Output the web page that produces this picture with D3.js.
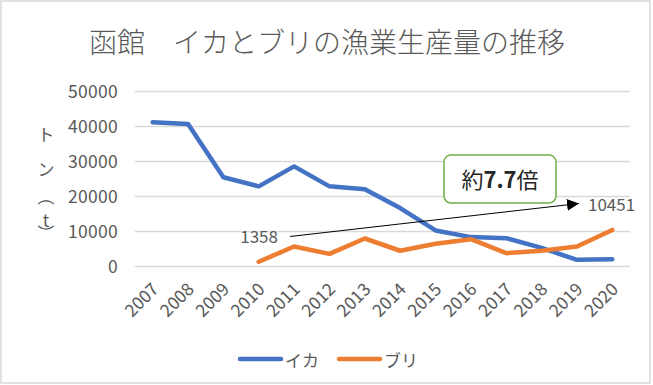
<!DOCTYPE html>
<html>
<head>
<meta charset="utf-8">
<script src="https://cdn.jsdelivr.net/npm/d3@7"></script>
<style>
  body { margin: 0; background: #fff; }
  svg text { font-family: "Noto Sans CJK JP", "Noto Sans", sans-serif; fill: #595959; }
</style>
</head>
<body>
<div id="chart"></div>
<script>
// data
var years = ["2007","2008","2009","2010","2011","2012","2013","2014","2015","2016","2017","2018","2019","2020"];
var ika = [41200, 40700, 25500, 22900, 28600, 22900, 22100, 16700, 10300, 8400, 8100, 5300, 1900, 2100];
var buri = [null, null, null, 1358, 5700, 3600, 8000, 4500, 6500, 7800, 3800, 4500, 5700, 10451];
var yTicks = [0, 10000, 20000, 30000, 40000, 50000];
var seriesNames = ["イカ", "ブリ"];
var seriesColors = ["#4472C4", "#ED7D31"];

var W = 653, H = 385;
var plot = {left: 135, right: 630, top: 91.5, bottom: 266.5};

var svg = d3.select("#chart").append("svg")
    .attr("width", W).attr("height", H);

// outer frame
svg.append("rect")
    .attr("x", 1).attr("y", 1).attr("width", W - 4).attr("height", H - 3)
    .attr("fill", "#fff").attr("stroke", "#d9d9d9").attr("stroke-width", 1.5);

// title
svg.append("text")
    .attr("x", 327).attr("y", 53)
    .attr("text-anchor", "middle")
    .style("font-size", "28px")
    .style("font-weight", 300)
    .text("函館　イカとブリの漁業生産量の推移");

var x = d3.scaleBand().domain(years).range([plot.left, plot.right]);
var y = d3.scaleLinear().domain([0, 50000]).range([plot.bottom, plot.top]);

// grid
svg.append("g").selectAll("line")
    .data(yTicks).enter().append("line")
    .attr("x1", plot.left).attr("x2", plot.right)
    .attr("y1", function(d) { return y(d); })
    .attr("y2", function(d) { return y(d); })
    .attr("stroke", "#d9d9d9").attr("stroke-width", 1.5);

// y axis labels
var yAxis = d3.axisLeft(y).tickValues(yTicks).tickSize(0).tickPadding(17)
    .tickFormat(d3.format("d"));
var gy = svg.append("g").attr("transform", "translate(" + plot.left + ",0)").call(yAxis);
gy.select(".domain").remove();
gy.selectAll("text").style("font-size", "17.5px").style("letter-spacing", "0.3px").attr("fill", "#595959");

// x axis labels, rotated
var xAxis = d3.axisBottom(x).tickSize(0).tickPadding(0);
var gx = svg.append("g").attr("transform", "translate(0," + plot.bottom + ")").call(xAxis);
gx.select(".domain").remove();
gx.selectAll("text")
    .style("font-size", "17.5px").attr("fill", "#595959")
    .attr("text-anchor", "end")
    .attr("dy", null).attr("y", 0)
    .attr("transform", "translate(7,24) rotate(-45)");

// y axis title (vertical)
var yTitle = [
  {ch: "ト", y: 133, rot: 0},
  {ch: "ン", y: 168, rot: 0},
  {ch: "（", y: 197, rot: 90},
  {ch: "t", y: 219, rot: 0},
  {ch: "）", y: 233, rot: 90}
];
svg.append("g").selectAll("text").data(yTitle).enter().append("text")
    .attr("text-anchor", "middle")
    .attr("dominant-baseline", "central")
    .attr("transform", function(d) { return "translate(46," + d.y + ") rotate(" + d.rot + ")"; })
    .style("font-size", "17px")
    .text(function(d) { return d.ch; });

// lines
var line = d3.line()
    .defined(function(d) { return d != null; })
    .x(function(d, i) { return x(years[i]) + x.bandwidth() / 2; })
    .y(function(d) { return y(d); });

[ika, buri].forEach(function(s, i) {
  svg.append("path")
      .datum(s)
      .attr("d", line)
      .attr("fill", "none")
      .attr("stroke", seriesColors[i])
      .attr("stroke-width", 4.5)
      .attr("stroke-linejoin", "round")
      .attr("stroke-linecap", "round");
});

// annotation arrow between first and last ブリ values
svg.append("defs").append("marker")
    .attr("id", "arrow")
    .attr("viewBox", "0 0 10 10")
    .attr("refX", 10).attr("refY", 5)
    .attr("markerWidth", 12).attr("markerHeight", 12)
    .attr("markerUnits", "userSpaceOnUse")
    .attr("orient", "auto")
    .append("path").attr("d", "M0,0L10,5L0,10Z").attr("fill", "#000");

svg.append("line")
    .attr("x1", 290).attr("y1", 236.5)
    .attr("x2", 579).attr("y2", 203.5)
    .attr("stroke", "#000").attr("stroke-width", 1)
    .attr("marker-end", "url(#arrow)");

svg.append("text")
    .attr("x", 278).attr("y", 243)
    .attr("text-anchor", "end")
    .style("font-size", "17px").attr("fill", "#404040")
    .text(d3.format("d")(buri[3]));

svg.append("text")
    .attr("x", 588).attr("y", 211)
    .style("font-size", "17px").attr("fill", "#404040")
    .text(d3.format("d")(buri[13]));

// ratio callout
svg.append("rect")
    .attr("x", 444).attr("y", 155).attr("width", 112).attr("height", 48)
    .attr("rx", 7).attr("ry", 7)
    .attr("fill", "#fff").attr("stroke", "#70AD47").attr("stroke-width", 1.5);

var callout = svg.append("text")
    .attr("x", 500).attr("y", 188)
    .attr("text-anchor", "middle")
    .style("font-size", "22px").attr("fill", "#262626");
callout.append("tspan").style("fill", "#262626").text("約");
callout.append("tspan").style("font-weight", "bold").style("fill", "#262626")
    .text((buri[13] / buri[3]).toFixed(1));
callout.append("tspan").style("fill", "#262626").text("倍");

// legend
var legend = svg.append("g").selectAll("g")
    .data(seriesNames).enter().append("g")
    .attr("transform", function(d, i) { return "translate(" + (240 + i * 99) + ",359)"; });
legend.append("line")
    .attr("x1", 0).attr("x2", 41).attr("y1", 0).attr("y2", 0)
    .attr("stroke", function(d, i) { return seriesColors[i]; })
    .attr("stroke-width", 4.5).attr("stroke-linecap", "round");
legend.append("text")
    .attr("x", 45).attr("y", 0).attr("dominant-baseline", "central")
    .style("font-size", "17px")
    .text(function(d) { return d; });
</script>
</body>
</html>
